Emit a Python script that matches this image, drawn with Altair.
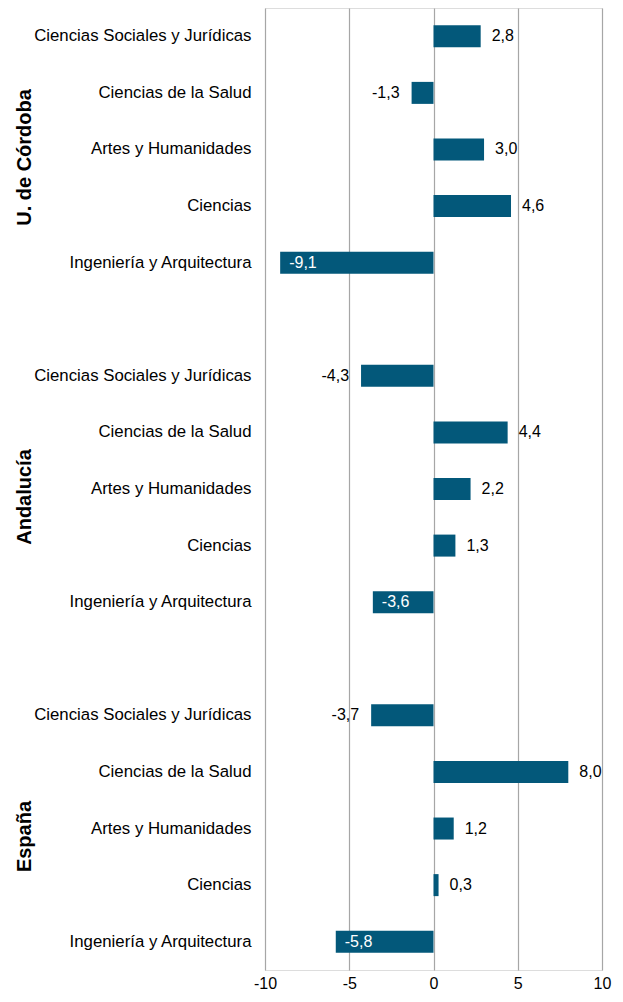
import altair as alt
import pandas as pd

groups = ["U. de Córdoba", "Andalucía", "España"]
categories = ["Ciencias Sociales y Jurídicas", "Ciencias de la Salud",
              "Artes y Humanidades", "Ciencias", "Ingeniería y Arquitectura"]
cordoba = [2.8, -1.3, 3.0, 4.6, -9.1]
andalucia = [-4.3, 4.4, 2.2, 1.3, -3.6]
espana = [-3.7, 8.0, 1.2, 0.3, -5.8]
x_ticks = [-10, -5, 0, 5, 10]

series = [cordoba, andalucia, espana]
rows = []
domain = []
for gi, (g, vals) in enumerate(zip(groups, series)):
    for c, v in zip(categories, vals):
        key = f"{gi}|{c}"
        domain.append(key)
        rows.append({"key": key, "group": g, "cat": c, "value": v,
                     "label": f"{v:.1f}".replace(".", ","),
                     "inside": c == "Ingeniería y Arquitectura"})
    if gi < len(groups) - 1:
        domain.append(f"gap{gi}|")
df = pd.DataFrame(rows)

mid = pd.DataFrame({"group": groups,
                    "key": [f"{gi}|{categories[2]}" for gi in range(len(groups))]})

FONT = "Liberation Sans"
GRAY = "#a6a6a6"
BLUE = "#03587A"

yenc = alt.Y("key:N", sort=domain,
             scale=alt.Scale(domain=domain, paddingInner=0.61, paddingOuter=0.305),
             axis=alt.Axis(title=None, domain=False, ticks=False, grid=False,
                           labelExpr="split(datum.value, '|')[1]",
                           labelFont=FONT, labelFontSize=16.8, labelColor="#000000",
                           labelPadding=14, labelLimit=400))
xscale = alt.Scale(domain=[-10, 10], nice=False, zero=False)

bars = alt.Chart(df).mark_bar(color=BLUE, size=22).encode(
    x=alt.X("value:Q", scale=xscale,
            axis=alt.Axis(title=None, values=x_ticks, domain=False, ticks=False,
                          grid=True, gridColor=GRAY, gridWidth=1.2,
                          labelExpr="datum.value + ''", labelFlush=False,
                          labelOverlap=False,
                          labelFont=FONT, labelFontSize=16, labelColor="#000000",
                          labelPadding=5)),
    x2=alt.datum(0),
    y=yenc,
)

pos_labels = alt.Chart(df).transform_filter("datum.value >= 0").mark_text(
    align="left", baseline="middle", dx=11, font=FONT, fontSize=16, color="#000000"
).encode(x=alt.X("value:Q", scale=xscale), y=alt.Y("key:N", sort=domain), text="label:N")

neg_out = alt.Chart(df).transform_filter("datum.value < 0 && !datum.inside").mark_text(
    align="right", baseline="middle", dx=-12, font=FONT, fontSize=16, color="#000000"
).encode(x=alt.X("value:Q", scale=xscale), y=alt.Y("key:N", sort=domain), text="label:N")

neg_in = alt.Chart(df).transform_filter("datum.value < 0 && datum.inside").mark_text(
    align="left", baseline="middle", dx=9, font=FONT, fontSize=16, color="#ffffff"
).encode(x=alt.X("value:Q", scale=xscale), y=alt.Y("key:N", sort=domain), text="label:N")

group_labels = alt.Chart(mid).mark_text(
    angle=270, align="center", baseline="middle", dx=-8,
    font=FONT, fontSize=20, fontWeight="bold", color="#000000"
).encode(x=alt.value(-240), y=alt.Y("key:N", sort=domain), text="group:N")

chart = alt.layer(bars, pos_labels, neg_out, neg_in, group_labels).properties(
    width=337, height=962,
    autosize=alt.AutoSizeParams(type="none"),
    padding={"left": 257, "top": 0, "right": 12, "bottom": 24},
).configure_view(stroke=GRAY, strokeWidth=1.2).configure(background="white")

chart.save("out.html", embed_options={"renderer": "svg", "actions": False})
